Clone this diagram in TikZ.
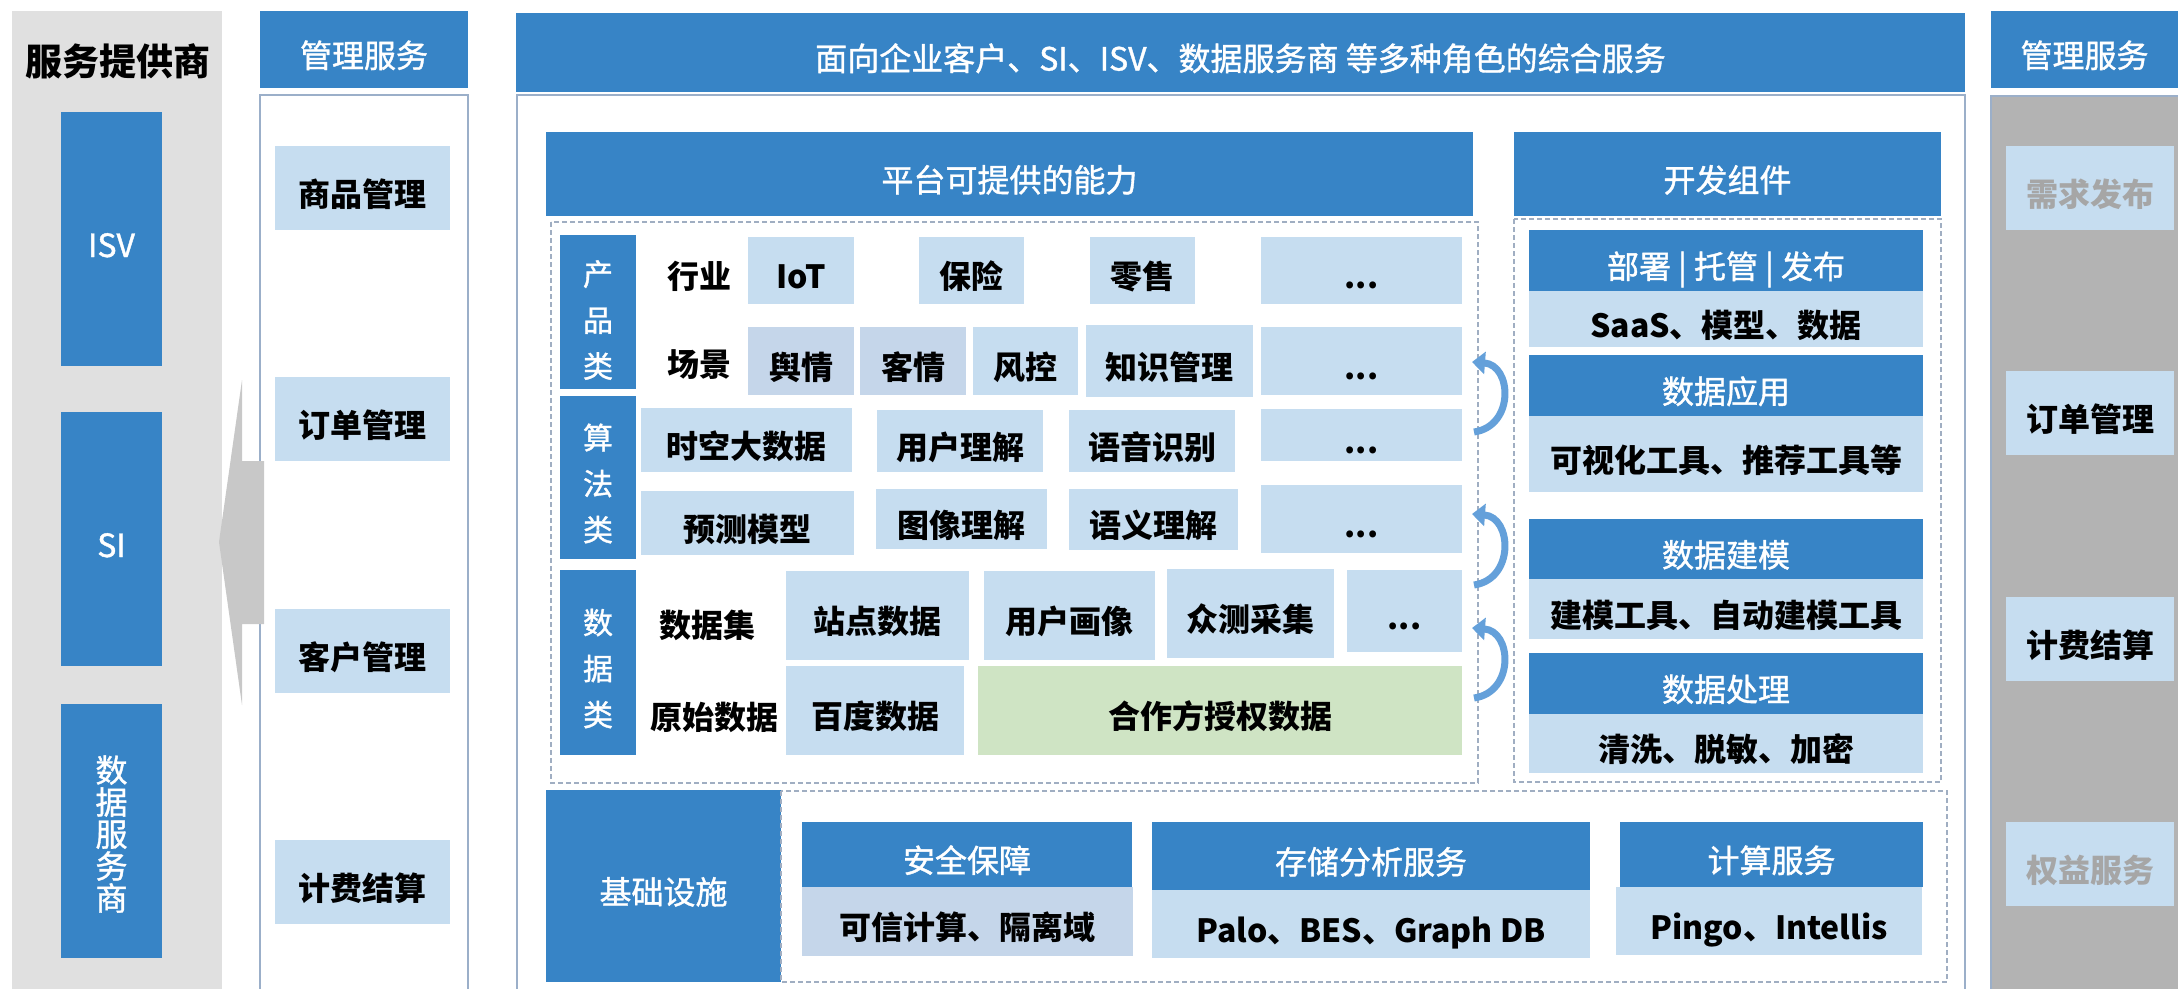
\documentclass[tikz,border=0pt]{standalone}
\usepackage{fontspec}
\setmainfont{Noto Sans CJK SC}
\newfontfamily\hdfont{Noto Sans CJK SC}[FakeBold=1.2]
\usetikzlibrary{arrows.meta}

\definecolor{hdblue}{RGB}{55,132,198}
\definecolor{lblue}{RGB}{198,221,240}
\definecolor{dblue}{RGB}{197,214,234}
\definecolor{lgreen}{RGB}{207,228,196}
\definecolor{frameln}{RGB}{155,175,201}
\definecolor{dashln}{RGB}{160,174,194}
\definecolor{panelA}{RGB}{224,224,224}
\definecolor{panelB}{RGB}{179,179,179}
\definecolor{arrgray}{RGB}{200,200,200}
\definecolor{fadetxt}{RGB}{166,166,166}
\definecolor{arcblue}{RGB}{100,160,218}

% box from (x1,y1) to (x2,y2): style, name, x1, y1, x2, y2, text
\newcommand{\blk}[7]{\node[#1, minimum width={(#5)-(#3)}, minimum height={(#6)-(#4)}] (#2) at ({((#3)+(#5))/2},{((#4)+(#6))/2}) {#7};}

\begin{document}
\begin{tikzpicture}[
    x = 1pt, y = -1pt,
    every node/.style = {inner sep = 0pt, outer sep = 0pt},
    low/.style = {text height = 36pt, text depth = 0pt},
    cell/.style = {low, fill = lblue, font = \bfseries\fontsize{32}{36}\selectfont},
    dcell/.style = {cell, fill = dblue},
    hdr/.style = {low, fill = hdblue, text = white, font = \hdfont\fontsize{32}{36}\selectfont},
    side/.style = {fill = hdblue},
    sidetxt/.style = {text = white, align = center, font = \hdfont\fontsize{30}{46}\selectfont},
    lbl/.style = {low, font = \bfseries\fontsize{32}{36}\selectfont},
    frame/.style = {draw = frameln, line width = 1.5pt},
    dbox/.style = {draw = dashln, line width = 1.5pt, dash pattern = on 5pt off 3pt},
    arcarrow/.style = {draw = arcblue, line width = 7pt, -{Triangle[length = 13pt, width = 22pt]}},
  ]
  \useasboundingbox (0,0) rectangle (2178,988);
  \fill[white] (0,0) rectangle (2178,988);

  % service providers
  \fill[panelA] (12,11) rectangle (222,992);
  \node[low, font = \bfseries\fontsize{37}{40}\selectfont] (tsp) at (118,57) {服务提供商};
  \blk{hdr}{isv}{61}{112}{162}{366}{ISV}
  \blk{hdr}{si}{61}{412}{162}{666}{SI}
  \blk{side}{dsp}{61}{704}{162}{958}{}
  \node[sidetxt, font = \hdfont\fontsize{32}{32}\selectfont] at ([yshift=-3pt]dsp.center) {数\\据\\服\\务\\商};

  % management, left
  \blk{hdr}{mhdL}{260}{11}{468}{88}{管理服务}
  \draw[frame] (260,95) rectangle (468,995);
  \blk{cell}{spgl}{275}{146}{450}{230}{商品管理}
  \blk{cell}{ddgl}{275}{377}{450}{461}{订单管理}
  \blk{cell}{khgl}{275}{609}{450}{693}{客户管理}
  \blk{cell}{jfjs}{275}{840}{450}{924}{计费结算}
  \fill[arrgray] (264,461) -- (242,461) -- (242,380) -- (219,542)
    -- (242,705) -- (242,624) -- (264,624) -- cycle;

  % combined services
  \blk{hdr}{top}{516}{13}{1965}{92}{面向企业客户、SI、ISV、数据服务商 等多种角色的综合服务}
  \draw[frame] (517,95) rectangle (1965,995);

  % platform capabilities
  \blk{hdr}{ptnl}{546}{132}{1473}{216}{平台可提供的能力}
  \draw[dbox] (551,222) rectangle (1478,783);
  \blk{side}{cpl}{560}{235}{636}{389}{}
  \blk{side}{sfl}{560}{396}{636}{559}{}
  \blk{side}{sjl}{560}{570}{636}{755}{}
  \node[sidetxt] at ([yshift=-8pt]cpl.center) {产\\品\\类};
  \node[sidetxt] at ([yshift=-6pt]sfl.center) {算\\法\\类};
  \node[sidetxt] at ([yshift=-6pt]sjl.center) {数\\据\\类};

  \node[lbl] (hy) at (699,270) {行业};
  \blk{cell}{iot}{748}{237}{854}{304}{IoT}
  \blk{cell}{bx}{919}{237}{1024}{304}{保险}
  \blk{cell}{ls}{1090}{237}{1195}{304}{零售}
  \blk{cell}{etcA}{1261}{237}{1462}{304}{...}

  \node[lbl] (cj) at (699,358) {场景};
  \blk{dcell}{yq}{748}{327}{854}{395}{舆情}
  \blk{dcell}{kq}{860}{327}{966}{395}{客情}
  \blk{cell}{fk}{973}{327}{1078}{395}{风控}
  \blk{cell}{zsgl}{1086}{325}{1253}{397}{知识管理}
  \blk{cell}{etcB}{1261}{327}{1462}{395}{...}

  \blk{cell}{skdsj}{641}{408}{852}{472}{时空大数据}
  \blk{cell}{yhlj}{877}{410}{1043}{472}{用户理解}
  \blk{cell}{yysb}{1069}{410}{1235}{472}{语音识别}
  \blk{cell}{etcC}{1261}{409}{1462}{461}{...}

  \blk{cell}{ycmx}{641}{491}{854}{555}{预测模型}
  \blk{cell}{txlj}{876}{489}{1047}{549}{图像理解}
  \blk{cell}{yylj}{1069}{489}{1238}{550}{语义理解}
  \blk{cell}{etcD}{1261}{485}{1462}{553}{...}

  \node[lbl] (sjj) at (707,619) {数据集};
  \blk{cell}{zdsj}{786}{571}{969}{660}{站点数据}
  \blk{cell}{yhhx}{984}{571}{1155}{660}{用户画像}
  \blk{cell}{zccj}{1167}{569}{1334}{658}{众测采集}
  \blk{cell}{etcE}{1347}{570}{1462}{652}{...}

  \node[lbl] (yssj) at (714,711) {原始数据};
  \blk{cell}{bdsj}{786}{666}{964}{755}{百度数据}
  \blk{cell, fill = lgreen}{hzf}{978}{666}{1462}{755}{合作方授权数据}

  % feedback arcs
  \coordinate (arcAs) at (1474,432); \coordinate (arcAe) at (1472,362);
  \coordinate (arcBs) at (1474,585); \coordinate (arcBe) at (1472,514);
  \coordinate (arcCs) at (1474,698); \coordinate (arcCe) at (1472,628);
  \draw[arcarrow] (arcAs) .. controls +(41,-6) and +(40,3) .. (arcAe);
  \draw[arcarrow] (arcBs) .. controls +(41,-6) and +(40,3) .. (arcBe);
  \draw[arcarrow] (arcCs) .. controls +(41,-6) and +(40,3) .. (arcCe);

  % development components
  \blk{hdr}{kfzj}{1514}{132}{1941}{216}{开发组件}
  \draw[dbox] (1514,219) rectangle (1941,782);
  \blk{hdr}{bsh}{1529}{230}{1923}{291}{部署 | 托管 | 发布}
  \blk{cell}{bsb}{1529}{291}{1923}{347}{SaaS、模型、数据}
  \blk{hdr}{yyh}{1529}{355}{1923}{416}{数据应用}
  \blk{cell}{yyb}{1529}{416}{1923}{492}{可视化工具、推荐工具等}
  \blk{hdr}{jmh}{1529}{519}{1923}{579}{数据建模}
  \blk{cell}{jmb}{1529}{579}{1923}{639}{建模工具、自动建模工具}
  \blk{hdr}{clh}{1529}{653}{1923}{714}{数据处理}
  \blk{cell}{clb}{1529}{714}{1923}{773}{清洗、脱敏、加密}

  % infrastructure
  \blk{hdr}{jcss}{546}{790}{781}{982}{基础设施}
  \draw[dbox] (781,791) rectangle (1947,982);
  \blk{hdr}{aqh}{802}{822}{1132}{887}{安全保障}
  \blk{dcell}{aqb}{802}{887}{1133}{956}{可信计算、隔离域}
  \blk{hdr}{cch}{1152}{822}{1590}{890}{存储分析服务}
  \blk{cell}{ccb}{1152}{890}{1590}{958}{Palo、BES、Graph DB}
  \blk{hdr}{jsh}{1620}{822}{1923}{887}{计算服务}
  \blk{cell}{jsb}{1616}{887}{1922}{955}{Pingo、Intellis}

  % management, right
  \blk{hdr}{mhdR}{1991}{11}{2178}{88}{管理服务}
  \filldraw[frame, fill = panelB] (1991,96) rectangle (2185,995);
  \blk{cell, text = fadetxt}{xqfb}{2006}{146}{2174}{230}{需求发布}
  \blk{cell}{ddglR}{2006}{371}{2174}{455}{订单管理}
  \blk{cell}{jfjsR}{2006}{597}{2174}{681}{计费结算}
  \blk{cell, text = fadetxt}{qyfw}{2006}{822}{2174}{906}{权益服务}
\end{tikzpicture}
\end{document}
